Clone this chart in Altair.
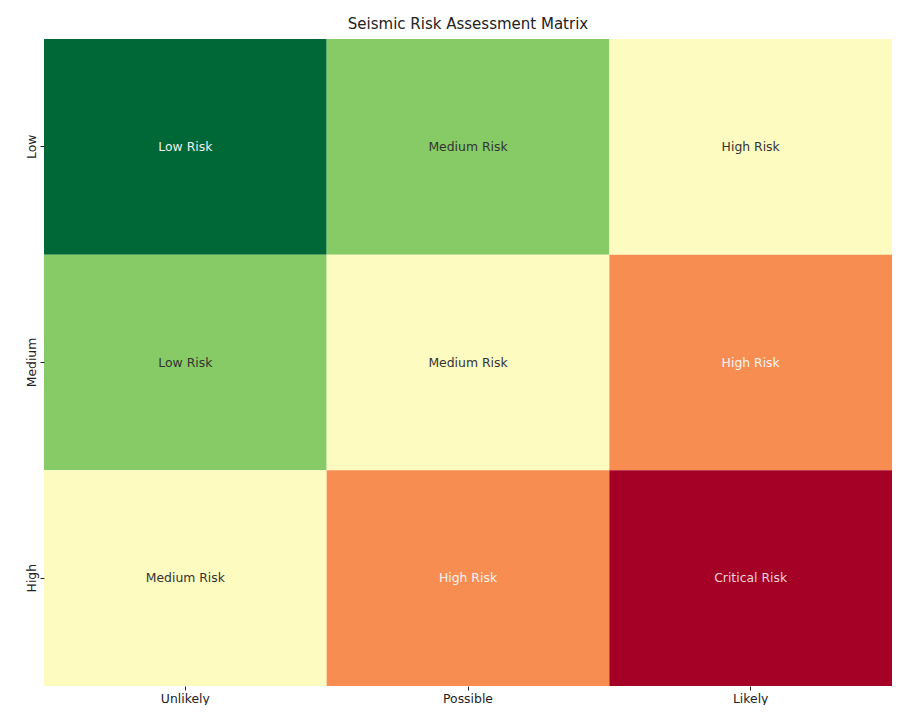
import altair as alt
import pandas as pd

likelihood = ["Unlikely", "Possible", "Likely"]
impact = ["Low", "Medium", "High"]
# risk level per (impact row, likelihood column)
levels = [
    [1, 2, 3],
    [2, 3, 4],
    [3, 4, 5],
]
labels = [
    ["Low Risk", "Medium Risk", "High Risk"],
    ["Low Risk", "Medium Risk", "High Risk"],
    ["Medium Risk", "High Risk", "Critical Risk"],
]
level_domain = [1, 2, 3, 4, 5]
level_colors = ["#006837", "#87cb66", "#fefbc0", "#f88d52", "#a50026"]
text_colors = ["#f0f0f0", "#333333", "#333333", "#f4f4f4", "#e8d6da"]

rows = []
for i, imp in enumerate(impact):
    for j, lk in enumerate(likelihood):
        rows.append({"Impact": imp, "Likelihood": lk,
                     "Level": levels[i][j], "Label": labels[i][j]})
df = pd.DataFrame(rows)

FONT = "DejaVu Sans"

base = alt.Chart(df)

rects = base.mark_rect().encode(
    x=alt.X("Likelihood:N", sort=likelihood, title=None,
            axis=alt.Axis(labelAngle=0, labelFont=FONT, labelFontSize=12.4,
                          labelColor="#222222", tickColor="#222222",
                          tickSize=4, labelPadding=2, domain=False)),
    y=alt.Y("Impact:N", sort=impact, title=None,
            axis=alt.Axis(labelAngle=270, labelFont=FONT, labelFontSize=12.4,
                          labelColor="#222222", tickColor="#222222",
                          tickSize=4, labelPadding=2, labelAlign="center",
                          labelBaseline="bottom", domain=False)),
    color=alt.Color("Level:O", scale=alt.Scale(domain=level_domain, range=level_colors),
                    legend=None),
)

texts = base.mark_text(font=FONT, fontSize=12.4).encode(
    x=alt.X("Likelihood:N", sort=likelihood),
    y=alt.Y("Impact:N", sort=impact),
    text="Label:N",
    color=alt.Color("Level:O", scale=alt.Scale(domain=level_domain, range=text_colors),
                    legend=None),
)

chart = alt.layer(rects, texts).resolve_scale(
    color="independent"
).properties(
    width=848, height=647,
    title=alt.Title("Seismic Risk Assessment Matrix", font=FONT, fontSize=15,
                    fontWeight="normal", color="#222222", offset=7),
    padding={"left": 17, "top": 9, "right": 0, "bottom": 0},
).configure_view(stroke=None)

chart.save("out.html", embed_options={"renderer": "svg", "actions": False})
